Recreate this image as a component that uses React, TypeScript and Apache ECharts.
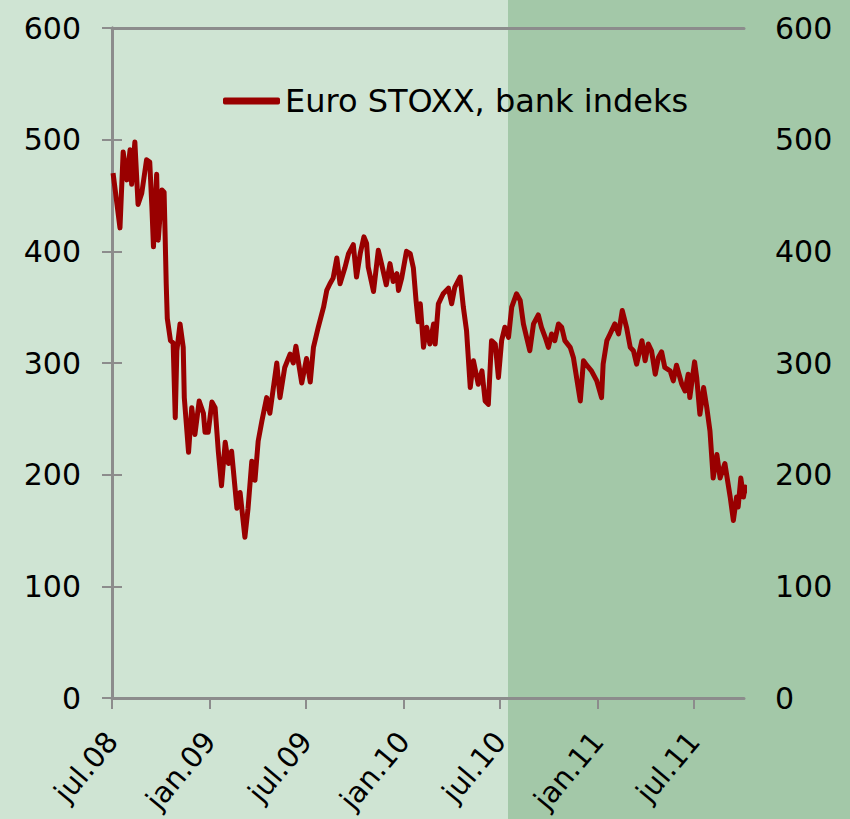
import React, { useEffect, useRef } from "react";
import * as echarts from "echarts";

// Series: day offsets from 2008-07-01 and index values
const seriesName = "Euro STOXX, bank indeks";
const startDate = "2008-07-01";
const endDate = "2011-10-03";
const shadeStartDate = "2010-07-16";

const dayOffsets = [
  2, 15, 21, 28, 34, 37, 43, 49, 56, 65, 71, 75, 78, 84, 87, 94, 98, 100, 102, 104,
  110, 115, 119, 122, 128, 134, 136, 144, 150, 156, 164, 172, 175, 181, 188, 194, 200, 206, 213, 219,
  225, 235, 241, 250, 256, 263, 269, 275, 282, 291, 297, 310, 316, 325, 335, 341, 346, 357, 366, 373,
  379, 388, 398, 404, 410, 416, 423, 429, 438, 445, 454, 460, 467, 474, 479, 482, 492, 501, 507, 516,
  523, 529, 536, 539, 545, 554, 561, 567, 572, 576, 580, 586, 592, 598, 605, 608, 614, 623, 633, 639,
  645, 655, 661, 667, 674, 680, 689, 696, 702, 708, 714, 721, 727, 733, 739, 746, 752, 761, 768, 774,
  780, 786, 793, 802, 808, 815, 821, 827, 833, 840, 846, 852, 862, 868, 874, 881, 887, 893, 902, 912,
  921, 924, 931, 937, 946, 953, 960, 968, 975, 981, 987, 997, 1003, 1009, 1015, 1022, 1028, 1034, 1040, 1050,
  1056, 1062, 1072, 1078, 1084, 1087, 1096, 1100, 1106, 1113, 1119, 1125, 1131, 1138, 1144, 1153, 1163, 1169, 1175, 1178,
  1183, 1188, 1191, 1193,
];

const indexValues = [
  470, 421, 489, 464, 491, 460, 498, 442, 452, 482, 480, 440, 404, 469, 410, 455, 453, 413, 371, 340,
  320, 318, 251, 311, 335, 314, 269, 220, 260, 236, 266, 255, 238, 238, 265, 260, 221, 190, 229, 210,
  221, 170, 184, 144, 170, 212, 195, 230, 248, 269, 255, 300, 269, 296, 308, 300, 315, 282, 304, 283,
  314, 332, 350, 365, 371, 376, 394, 371, 385, 398, 406, 377, 398, 413, 407, 386, 364, 401, 389, 370,
  389, 373, 380, 365, 376, 400, 398, 385, 356, 337, 353, 314, 332, 317, 335, 317, 353, 362, 367, 353,
  368, 377, 350, 329, 278, 302, 281, 293, 266, 263, 320, 317, 287, 320, 332, 323, 350, 362, 356, 335,
  323, 311, 335, 343, 332, 323, 314, 326, 320, 335, 332, 320, 314, 305, 287, 266, 302, 298, 293, 284,
  269, 299, 320, 326, 335, 326, 347, 332, 314, 311, 299, 320, 302, 317, 311, 290, 305, 310, 296, 293,
  284, 298, 281, 275, 290, 269, 301, 287, 254, 278, 260, 239, 197, 218, 197, 210, 180, 159, 180, 171,
  197, 180, 189, 183,
];

const tickDates = [
  "2008-07-01", "2009-01-01", "2009-07-01", "2010-01-01", "2010-07-01", "2011-01-01", "2011-07-01",
];
const tickLabels = ["jul.08", "jan.09", "jul.09", "jan.10", "jul.10", "jan.11", "jul.11"];

const yMin = 0;
const yMax = 600;
const yInterval = 100;

const DAY = 86400000;
function parseDate(s: string): number {
  const [y, m, d] = s.split("-").map(Number);
  return Date.UTC(y, m - 1, d);
}
function dayIndex(s: string): number {
  return Math.round((parseDate(s) - parseDate(startDate)) / DAY);
}

const FONT = "DejaVu Sans";
const AXIS_COLOR = "#8c8c8c";
const LIGHT_BG = "#cfe4d3";
const DARK_BG = "#a3c8a8";
const LINE_COLOR = "#990000";

export default function App() {
  const ref = useRef<HTMLDivElement>(null);

  useEffect(() => {
    if (!ref.current) return;
    const chart = echarts.init(ref.current, undefined, { renderer: "svg" });
    const xEnd = dayIndex(endDate);
    const tickDays = tickDates.map(dayIndex);
    const data = dayOffsets.map((d, i) => [d, indexValues[i]]);

    const labelFor = (v: number) => {
      const idx = tickDays.findIndex((t) => Math.abs(t - v) < 0.5);
      return idx >= 0 ? tickLabels[idx] : "";
    };

    const yAxisBase = {
      type: "value",
      min: yMin,
      max: yMax,
      interval: yInterval,
      axisLine: { show: true, lineStyle: { color: AXIS_COLOR, width: 3 } },
      axisTick: { show: true, inside: false, length: 10, lineStyle: { color: AXIS_COLOR, width: 2 } },
      axisLabel: { margin: 31, fontFamily: FONT, fontSize: 30, color: "#000" },
      splitLine: { show: false },
    };

    chart.setOption({
      animation: false,
      backgroundColor: LIGHT_BG,
      grid: { left: 112, right: 106, top: 28, bottom: 121 },
      legend: {
        data: [seriesName],
        left: 218,
        top: 80,
        icon: "roundRect",
        itemWidth: 57,
        itemHeight: 7,
        textStyle: { fontFamily: FONT, fontSize: 32, color: "#000" },
      },
      xAxis: [
        {
          type: "value",
          min: 0,
          max: xEnd,
          axisLine: { show: true, onZero: false, lineStyle: { color: AXIS_COLOR, width: 3 } },
          axisTick: { show: true, customValues: tickDays, length: 11, lineStyle: { color: AXIS_COLOR, width: 2 } },
          axisLabel: {
            customValues: tickDays,
            rotate: 50,
            margin: 38,
            fontFamily: FONT,
            fontSize: 29,
            color: "#000",
            formatter: (v: number) => labelFor(v),
          },
          splitLine: { show: false },
        },
        {
          type: "value",
          min: 0,
          max: xEnd,
          position: "top",
          axisLine: { show: true, onZero: false, lineStyle: { color: AXIS_COLOR, width: 3 } },
          axisTick: { show: false },
          axisLabel: { show: false },
          splitLine: { show: false },
        },
      ],
      yAxis: [
        { ...yAxisBase, position: "left" },
        { ...yAxisBase, position: "right" },
      ],
      series: [
        {
          name: seriesName,
          type: "line",
          xAxisIndex: 0,
          yAxisIndex: 0,
          data,
          showSymbol: false,
          symbol: "none",
          clip: false,
          lineStyle: { color: LINE_COLOR, width: 5, join: "round" },
          itemStyle: { color: LINE_COLOR },
          z: 5,
        },
      ],
    });

    const shadeX = chart.convertToPixel({ xAxisIndex: 0 }, dayIndex(shadeStartDate)) as number;
    const w = chart.getWidth();
    const h = chart.getHeight();
    chart.setOption({
      graphic: [
        {
          type: "rect",
          silent: true,
          z: -100,
          shape: { x: shadeX, y: 0, width: w - shadeX, height: h },
          style: { fill: DARK_BG },
        },
      ],
    });

    return () => chart.dispose();
  }, []);

  return (
    <div
      ref={ref}
      style={{ position: "fixed", left: 0, top: 0, width: 850, height: 819 }}
    />
  );
}
